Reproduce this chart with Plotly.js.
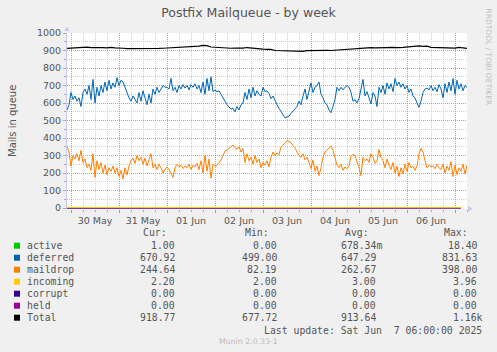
<!DOCTYPE html>
<html>
<head>
<meta charset="utf-8">
<script src="https://cdn.plot.ly/plotly-3.0.1.min.js"></script>
<style>html,body{margin:0;padding:0;background:#F0F0F0;}#chart{width:497px;height:352px;}</style>
</head>
<body>
<div id="chart"></div>
<script>
// ---- data (hourly from 2025-05-29 22:00 UTC) ----
const deferred = [
560,590,660,620,640,610,630,580,660,680,
650,700,620,735,600,690,640,700,660,720,
670,730,680,715,690,745,700,730,720,690,
650,630,610,640,620,600,660,610,670,630,
590,650,600,680,650,690,660,680,700,690,
690,680,740,670,690,660,700,680,705,685,
700,675,705,690,710,680,700,660,720,650,
740,670,750,665,675,665,670,650,625,610,
590,580,565,570,550,580,560,590,600,660,
620,680,630,690,640,670,650,640,690,665,
670,655,625,640,610,590,570,550,530,515,
520,525,540,555,570,580,610,590,640,680,
620,670,715,660,690,700,720,650,630,600,
590,560,545,580,620,690,670,690,675,690,
700,690,660,610,620,600,625,680,735,640,
665,630,595,660,640,580,690,660,700,650,
715,680,710,665,740,700,720,690,710,680,
700,660,680,640,630,600,575,610,660,680,
685,675,700,670,690,665,705,680,630,710,
660,720,670,740,650,730,680,710,670,700,690];
const maildrop = [
350,320,240,300,280,310,270,330,260,280,
230,250,215,310,175,270,220,260,200,245,
190,230,210,240,200,230,180,215,165,230,
190,240,270,285,255,300,270,290,250,285,
240,270,310,230,250,220,250,230,200,220,
235,220,195,175,230,250,235,245,225,240,
230,250,220,245,235,255,220,270,200,300,
210,280,170,250,240,245,260,275,300,325,
330,340,355,360,345,335,350,320,340,260,
310,270,290,250,300,260,280,230,260,245,
270,235,290,320,300,315,305,350,360,370,
385,380,375,355,345,320,300,290,310,275,
290,260,225,275,210,240,185,230,290,320,
330,345,355,330,290,245,230,250,215,235,
225,240,300,305,300,270,230,185,290,270,
280,260,310,290,255,270,335,290,270,230,
280,245,220,260,200,240,180,230,195,250,
210,260,230,240,215,240,310,340,320,270,
230,245,235,240,225,250,230,220,250,200,
240,215,265,180,245,190,230,210,250,195,245];
// total every 2 hours
const total = [
912,914,915,918,920,919,916,917,915,916,
915,918,915,912,913,911,911,909,908,910,
909,910,911,912,913,914,916,918,920,922,
923,924,924,925,929,928,920,918,915,914,
914,913,914,913,914,917,914,913,911,908,
907,906,900,899,900,899,900,898,894,895,
899,900,901,899,900,901,900,902,903,906,
908,909,910,910,914,915,916,915,917,916,
917,918,916,917,918,921,924,925,926,924,
925,918,917,915,914,913,913,914,918,917,912];
// small series sampled at these hours
const smallHours = [0,12,24,36,48,60,72,84,96,108,120,132,144,156,168,180,192,197];
const active   = [0,1,0,0,2,0,1,0,0,1,0,0,0,1,0,2,0,1];
const incoming = [3.0,2.8,3.2,3.0,2.6,3.1,3.4,2.9,3.0,3.2,2.7,3.0,3.3,2.9,3.1,2.8,3.0,2.2];
const corrupt  = [0,0,0,0,0,0,0,0,0,0,0,0,0,0,0,0,0,0];
const held     = [0,0,0,0,0,0,0,0,0,0,0,0,0,0,0,0,0,0];

const names  = ['active','deferred','maildrop','incoming','corrupt','held','Total'];
const colors = ['#00CC00','#0066B3','#FF8000','#FFCC00','#330099','#990099','#000000'];
const curV = ['1.00','670.92','244.64','2.20','0.00','0.00','918.77'];
const minV = ['0.00','499.00','82.19','2.00','0.00','0.00','677.72'];
const avgV = ['678.34m','647.29\u00a0','262.67\u00a0','3.00\u00a0','0.00\u00a0','0.00\u00a0','913.64\u00a0'];
const maxV = ['18.40\u00a0','831.63\u00a0','398.00\u00a0','3.96\u00a0','0.00\u00a0','0.00\u00a0','1.16k'];

// ---- build ----
const H = 3600000;
const t0 = Date.UTC(2025,4,29,22,0,0);
const xHourly = deferred.map((_, i) => t0 + i * H);
const x2h = total.map((_, i) => t0 + i * 2 * H);
const xSmall = smallHours.map(h => t0 + h * H);

function tr(x, y, c, w){ return {x:x, y:y, type:'scatter', mode:'lines', line:{color:c, width:w}, hoverinfo:'skip'}; }
const data = [
  tr(xSmall, active, colors[0], 1),
  tr(xHourly, deferred, colors[1], 1),
  tr(xHourly, maildrop, colors[2], 1),
  tr(xSmall, corrupt, colors[4], 1),
  tr(xSmall, held, colors[5], 1),
  tr(xSmall, incoming, colors[3], 1),
  tr(x2h, total, colors[6], 1.2)
];

// pixel -> paper helpers (plot area px 67..467, py 33..209)
const PX = px => (px - 67) / 400;
const PY = py => (209 - py) / 176;

const mono = 'DejaVu Sans Mono';
const txtCol = '#555555';
const ann = [];
function A(text, px, py, anchor, font, extra){
  ann.push(Object.assign({text:text, x:PX(px), y:PY(py), xref:'paper', yref:'paper', xanchor:anchor, yanchor:'middle',
    showarrow:false, borderpad:0, borderwidth:0, font:font}, extra||{}));
}
const lf = {family:mono, size:9.8, color:txtCol};
A('Cur:', 167, 233, 'right', lf);
A('Min:', 269, 233, 'right', lf);
A('Avg:', 369, 233, 'right', lf);
A('Max:', 468, 233, 'right', lf);
const shapes = [];
names.forEach((n, i) => {
  const py = 245.7 + 12 * i;
  A(n, 27, py, 'left', lf);
  A(curV[i], 175, py, 'right', lf);
  A(minV[i], 277, py, 'right', lf);
  A(avgV[i], 382, py, 'right', lf);
  A(maxV[i], 483, py, 'right', lf);
  shapes.push({type:'rect', xref:'paper', yref:'paper', x0:PX(14), x1:PX(20), y0:PY(py+3), y1:PY(py-3),
    fillcolor:colors[i], line:{width:0}});
});
A('Last update:\u00a0Sat\u00a0Jun\u00a0\u00a07\u00a006:00:00\u00a02025', 482, 330, 'right', lf);
A('Munin 2.0.33-1', 219, 341, 'left', {family:'DejaVu Sans', size:7.8, color:'#bbbbbb'});
A('Mails in queue', 12, 121, 'center', {family:'DejaVu Sans', size:10, color:txtCol}, {textangle:-90});
A('RRDTOOL / TOBI OETIKER', 488, 56.5, 'center', {family:'DejaVu Sans', size:7.5, color:'#c0c0c0'}, {textangle:90});

// axis arrows
const arrowCol = '#c8c8f0';
shapes.push({type:'path', xref:'paper', yref:'paper', fillcolor:arrowCol, line:{width:0},
  path:`M ${PX(64.3)} ${PY(31)} L ${PX(69.7)} ${PY(31)} L ${PX(67)} ${PY(26.5)} Z`});
shapes.push({type:'path', xref:'paper', yref:'paper', fillcolor:arrowCol, line:{width:0},
  path:`M ${PX(468)} ${PY(206)} L ${PX(468)} ${PY(211.4)} L ${PX(473)} ${PY(208.7)} Z`});

const redGrid = 'rgba(235,120,120,0.85)';
const greyGrid = '#cfcfcf';
const tickFont = {family:'DejaVu Sans', size:9.5, color:txtCol};

const layout = {
  width:497, height:352, autosize:false,
  paper_bgcolor:'#F0F0F0', plot_bgcolor:'#FFFFFF',
  margin:{l:67, r:30, t:33, b:143, pad:0},
  showlegend:false,
  title:{text:'Postfix Mailqueue - by week', font:{family:'DejaVu Sans', size:12.5, color:txtCol},
    xref:'container', yref:'container', x:0.5, xanchor:'center', y:1-13/352, yanchor:'middle'},
  xaxis:{type:'date', range:[t0, t0 + 200 * H], tick0:Date.UTC(2025,4,30), dtick:86400000,
    ticklabelmode:'period', tickformat:'%d %b', tickfont:tickFont,
    showgrid:true, gridcolor:redGrid, griddash:'1px,1px', gridwidth:1,
    ticks:'outside', ticklen:3, tickcolor:'#e08080', zeroline:false, showline:false, fixedrange:true,
    minor:{dtick:6 * H, tick0:Date.UTC(2025,4,30), showgrid:true, gridcolor:greyGrid, griddash:'1px,1px',
      ticks:'outside', ticklen:2, tickcolor:'#aaaaaa'}},
  yaxis:{range:[-5.714, 1000], tick0:0, dtick:100, tickfont:tickFont,
    showgrid:true, gridcolor:redGrid, griddash:'1px,1px', gridwidth:1,
    ticks:'outside', ticklen:3, tickcolor:'#aaaaaa', zeroline:false,
    showline:true, linecolor:arrowCol, linewidth:1, fixedrange:true,
    minor:{dtick:50, showgrid:true, gridcolor:greyGrid, griddash:'1px,1px', ticks:'outside', ticklen:2, tickcolor:'#aaaaaa'}},
  annotations:ann,
  shapes:shapes
};

Plotly.newPlot('chart', data, layout, {staticPlot:true, displayModeBar:false});
</script>
</body>
</html>
